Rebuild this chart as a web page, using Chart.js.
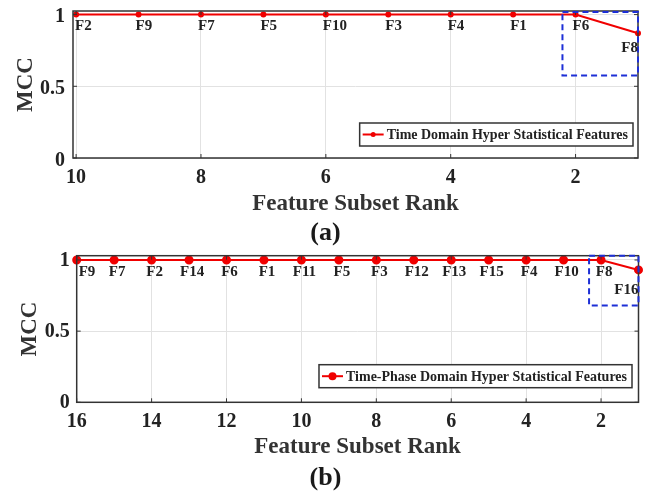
<!DOCTYPE html>
<html>
<head>
<meta charset="utf-8">
<script src="https://cdn.jsdelivr.net/npm/chart.js@4.4.0/dist/chart.umd.min.js"></script>
<style>
  body { margin: 0; background: #fff; width: 647px; height: 495px; position: relative; overflow: hidden; }
  canvas { position: absolute; left: 0; }
  .tag { position: absolute; left: 2px; width: 647px; text-align: center; font: bold 26px "Liberation Serif", "Times New Roman", serif; color: #1a1a1a; line-height: 30px; }
</style>
</head>
<body>
<canvas id="chart-a" width="647" height="225" style="top:0"></canvas>
<canvas id="chart-b" width="647" height="235" style="top:235px"></canvas>
<div class="tag" style="top:217px">(a)</div>
<div class="tag" style="top:462px">(b)</div>
<script>
// (a) time domain features
const ranksA = [10, 9, 8, 7, 6, 5, 4, 3, 2, 1];
const mccA = [1, 1, 1, 1, 1, 1, 1, 1, 1, 0.87];
const featuresA = ["F2", "F9", "F7", "F5", "F10", "F3", "F4", "F1", "F6", "F8"];
const xTicksA = [10, 8, 6, 4, 2];
const zoomBoxA = [2.21, 1, 0.575, 1.018]; // x from, x to, y from, y to

// (b) time-phase domain features
const ranksB = [16, 15, 14, 13, 12, 11, 10, 9, 8, 7, 6, 5, 4, 3, 2, 1];
const mccB = [1, 1, 1, 1, 1, 1, 1, 1, 1, 1, 1, 1, 1, 1, 1, 0.93];
const featuresB = ["F9", "F7", "F2", "F14", "F6", "F1", "F11", "F5", "F3", "F12", "F13", "F15", "F4", "F10", "F8", "F16"];
const xTicksB = [16, 14, 12, 10, 8, 6, 4, 2];
const zoomBoxB = [2.32, 1, 0.68, 1.03];

const yTicks = [0, 0.5, 1];

const SERIF = '"Liberation Serif", "Times New Roman", serif';
const INK = "#222";

// frame, inward ticks, dashed zoom box, point labels and legend
const decorPlugin = {
  id: "decor",
  afterDatasetsDraw(chart, args, opts) {
    const ctx = chart.ctx;
    const area = chart.chartArea;
    const xs = chart.scales.x;
    const ys = chart.scales.y;
    ctx.save();

    // box around the axes
    ctx.strokeStyle = "#333";
    ctx.lineWidth = 1.5;
    ctx.strokeRect(area.left, area.top, area.right - area.left, area.bottom - area.top);
    ctx.lineWidth = 1;
    xs.ticks.forEach((t) => {
      const px = xs.getPixelForValue(t.value);
      ctx.beginPath();
      ctx.moveTo(px, area.bottom); ctx.lineTo(px, area.bottom - 4);
      ctx.moveTo(px, area.top); ctx.lineTo(px, area.top + 4);
      ctx.stroke();
    });
    ys.ticks.forEach((t) => {
      const py = ys.getPixelForValue(t.value);
      ctx.beginPath();
      ctx.moveTo(area.left, py); ctx.lineTo(area.left + 4, py);
      ctx.moveTo(area.right, py); ctx.lineTo(area.right - 4, py);
      ctx.stroke();
    });

    // dashed zoom box
    const b = opts.box;
    const bx0 = xs.getPixelForValue(b[0]);
    const bx1 = xs.getPixelForValue(b[1]);
    const by0 = ys.getPixelForValue(b[2]);
    const by1 = ys.getPixelForValue(b[3]);
    ctx.strokeStyle = "#1d2fd6";
    ctx.lineWidth = 2;
    ctx.setLineDash([6, 4]);
    ctx.strokeRect(Math.min(bx0, bx1), Math.min(by0, by1), Math.abs(bx1 - bx0), Math.abs(by1 - by0));
    ctx.setLineDash([]);

    // feature names under each point
    const meta = chart.getDatasetMeta(0);
    ctx.font = "bold 15px " + SERIF;
    ctx.fillStyle = INK;
    ctx.textBaseline = "middle";
    ctx.textAlign = "left";
    const last = meta.data.length - 1;
    meta.data.forEach((pt, i) => {
      const txt = opts.names[i];
      const w = ctx.measureText(txt).width;
      let left = opts.align === "left" ? pt.x + opts.dx : pt.x + opts.dx - w / 2;
      left = Math.max(left, area.left + 2);
      left = Math.min(left, area.right - w);
      const dy = i === last ? opts.lastDy : opts.dy;
      ctx.fillText(txt, left, pt.y + dy);
    });

    // legend in the lower right corner
    const ds = chart.data.datasets[0];
    ctx.font = "bold 14px " + SERIF;
    const tw = ctx.measureText(ds.label).width;
    const bw = tw + 32;
    const bh = 23;
    const lx = area.right - opts.legendInset[0] - bw;
    const ly = area.bottom - opts.legendInset[1] - bh;
    ctx.fillStyle = "#fff";
    ctx.fillRect(lx, ly, bw, bh);
    ctx.strokeStyle = "#333";
    ctx.lineWidth = 1.5;
    ctx.strokeRect(lx, ly, bw, bh);
    ctx.strokeStyle = ds.borderColor;
    ctx.lineWidth = 2;
    ctx.beginPath();
    ctx.moveTo(lx + 3, ly + bh / 2);
    ctx.lineTo(lx + 24, ly + bh / 2);
    ctx.stroke();
    ctx.fillStyle = ds.borderColor;
    ctx.beginPath();
    ctx.arc(lx + 13.5, ly + bh / 2, ds.pointRadius + 0.5, 0, Math.PI * 2);
    ctx.fill();
    ctx.fillStyle = INK;
    ctx.fillText(ds.label, lx + 27, ly + bh / 2 + 1);

    ctx.restore();
  },
};

function noEdgePadding(scale) {
  scale.paddingTop = 0;
  scale.paddingBottom = 0;
  scale.paddingLeft = 0;
  scale.paddingRight = 0;
}

function makeChart(id, cfg) {
  const ctx = document.getElementById(id).getContext("2d");
  return new Chart(ctx, {
    type: "line",
    data: {
      datasets: [
        {
          label: cfg.label,
          data: cfg.ranks.map((r, i) => ({ x: r, y: cfg.values[i] })),
          borderColor: "#f00000",
          backgroundColor: "#f00000",
          borderWidth: 2,
          pointRadius: cfg.pointRadius,
          pointHoverRadius: cfg.pointRadius,
          tension: 0,
          clip: false,
        },
      ],
    },
    options: {
      responsive: false,
      animation: false,
      devicePixelRatio: 1,
      layout: { padding: { top: cfg.padTop, right: cfg.padRight, left: 0, bottom: 0 } },
      plugins: {
        legend: { display: false },
        tooltip: { enabled: false },
        decor: {
          box: cfg.box,
          names: cfg.names,
          align: cfg.labelAlign,
          dx: cfg.labelDx,
          dy: 12,
          lastDy: cfg.lastDy,
          legendInset: cfg.legendInset,
        },
      },
      scales: {
        x: {
          type: "linear",
          reverse: true,
          min: 1,
          max: cfg.xMax,
          afterBuildTicks: (scale) => {
            scale.ticks = cfg.xTicks.map((v) => ({ value: v }));
          },
          afterFit: (scale) => {
            scale.height = cfg.xHeight;
            noEdgePadding(scale);
          },
          grid: { color: "#e2e2e2", drawTicks: false },
          border: { display: false },
          ticks: {
            padding: 8,
            color: INK,
            font: { family: SERIF, size: 20, weight: "bold" },
            callback: (v) => String(v),
          },
          title: {
            display: true,
            text: "Feature Subset Rank",
            color: "#333",
            padding: { top: 0, bottom: cfg.xTitlePad },
            font: { family: SERIF, size: 23, weight: "bold" },
          },
        },
        y: {
          min: 0,
          max: cfg.yMax,
          afterBuildTicks: (scale) => {
            scale.ticks = yTicks.map((v) => ({ value: v }));
          },
          afterFit: (scale) => {
            scale.width = cfg.yWidth;
            noEdgePadding(scale);
          },
          grid: { color: "#e2e2e2", drawTicks: false },
          border: { display: false },
          ticks: {
            padding: cfg.yTickPad,
            labelOffset: cfg.yLabelShift,
            color: INK,
            font: { family: SERIF, size: 20, weight: "bold" },
            callback: (v) => String(v),
          },
          title: {
            display: true,
            text: "MCC",
            color: "#333",
            padding: { top: cfg.yTitlePad, bottom: 0 },
            font: { family: SERIF, size: 23, weight: "bold" },
          },
        },
      },
    },
    plugins: [decorPlugin],
  });
}

makeChart("chart-a", {
  label: "Time Domain Hyper Statistical Features",
  ranks: ranksA,
  values: mccA,
  names: featuresA,
  xTicks: xTicksA,
  box: zoomBoxA,
  xMax: 10.05,
  yMax: 1.025,
  pointRadius: 2,
  padTop: 11,
  padRight: 9,
  yWidth: 73,
  xHeight: 67,
  xTitlePad: 6.7,
  yTitlePad: 12.7,
  yTickPad: 8,
  yLabelShift: 2.5,
  labelAlign: "left",
  labelDx: -3,
  lastDy: 15,
  legendInset: [5, 12],
});

makeChart("chart-b", {
  label: "Time-Phase Domain Hyper Statistical Features",
  ranks: ranksB,
  values: mccB,
  names: featuresB,
  xTicks: xTicksB,
  box: zoomBoxB,
  xMax: 16,
  yMax: 1.03,
  pointRadius: 3.5,
  padTop: 20.7,
  padRight: 8.5,
  yWidth: 76.7,
  xHeight: 67.7,
  xTitlePad: 8.7,
  yTitlePad: 16.7,
  yTickPad: 7,
  yLabelShift: 1,
  labelAlign: "center",
  labelDx: 3,
  lastDy: 20,
  legendInset: [6.5, 14.6],
});
</script>
</body>
</html>
